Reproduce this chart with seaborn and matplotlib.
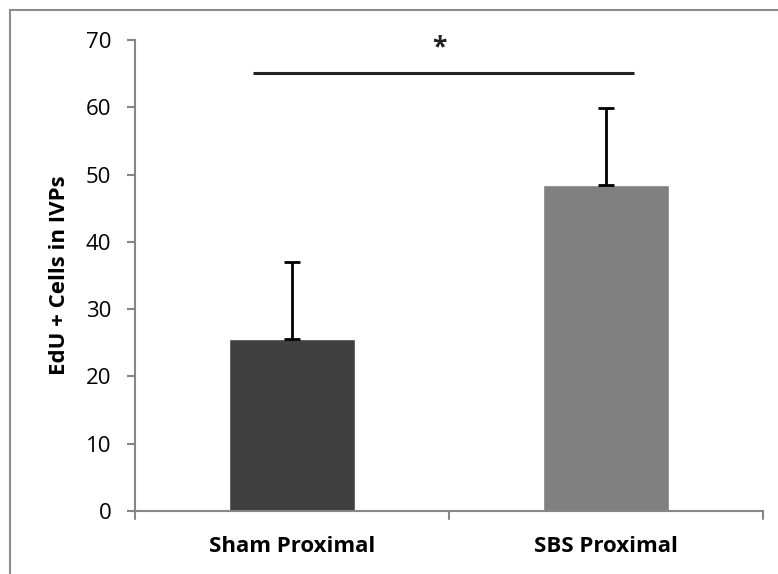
import matplotlib
matplotlib.use("Agg")
import matplotlib.pyplot as plt
import seaborn as sns
import pandas as pd
from matplotlib.patches import Rectangle

categories = ["Sham Proximal", "SBS Proximal"]
means = [25.6, 48.5]
errors = [11.4, 11.4]
bar_colors = ["#404040", "#808080"]
y_ticks = [0, 10, 20, 30, 40, 50, 60, 70]
sig_y = 65.1
sig_x = [-0.125, 1.09]
sig_label = "*"
y_label = "EdU + Cells in IVPs"

sns.set_theme(style="white")
plt.rcParams['font.family'] = ['Open Sans', 'DejaVu Sans']
plt.rcParams['text.color'] = 'black'
plt.rcParams['axes.labelcolor'] = 'black'
plt.rcParams['xtick.color'] = 'black'
plt.rcParams['ytick.color'] = 'black'

df = pd.DataFrame({"group": categories, "value": means})

fig = plt.figure(figsize=(7.78, 5.74), dpi=100)
ax = fig.add_axes([135/778, 1-511/574, (763-135)/778, (511-40)/574])

sns.barplot(data=df, x="group", y="value", hue="group", palette=bar_colors,
            width=0.4, errorbar=None, legend=False, ax=ax, saturation=1)

ax.errorbar(range(len(categories)), means, yerr=[[0]*len(errors), errors],
            fmt="none", ecolor="black", elinewidth=2, capsize=6, capthick=2, zorder=3)

ax.plot(sig_x, [sig_y, sig_y], color="#222222", lw=2.2, solid_capstyle="butt")
ax.text(0.47, sig_y + 1.8, sig_label, ha="center", va="bottom", fontsize=19,
        fontweight="bold", color="#222222")

ax.set_xlim(-0.5, 1.5)
ax.set_ylim(0, 70)
ax.set_yticks(y_ticks)
ax.set_yticklabels([str(t) for t in y_ticks], fontsize=16, color="black")
ax.set_xticks([0, 1])
ax.set_xticklabels(categories, fontsize=16, fontweight="bold", color="black")
ax.tick_params(axis="x", length=0, pad=18)
ax.tick_params(axis="y", length=6, width=1.5, color="#868686", pad=11, left=True)
for xb in [-0.5, 0.5, 1.5]:
    ax.plot([xb, xb], [0, -0.017], transform=ax.get_xaxis_transform(), color="#868686",
            lw=1.5, clip_on=False)

ax.set_xlabel("")
ax.set_ylabel(y_label, fontsize=16, fontweight="bold", color="black")
ax.yaxis.set_label_coords((70 - 135) / 628, 0.5)

for side in ["top", "right"]:
    ax.spines[side].set_visible(False)
for side in ["left", "bottom"]:
    ax.spines[side].set_color("#868686")
    ax.spines[side].set_linewidth(1.5)

fig.patches.append(Rectangle((10/778, -0.1), 1.2, 1 - 10/574 + 0.1, transform=fig.transFigure,
                             fill=False, edgecolor="#8c8c8c", lw=1.5))

fig.savefig("out.png", dpi=100)
